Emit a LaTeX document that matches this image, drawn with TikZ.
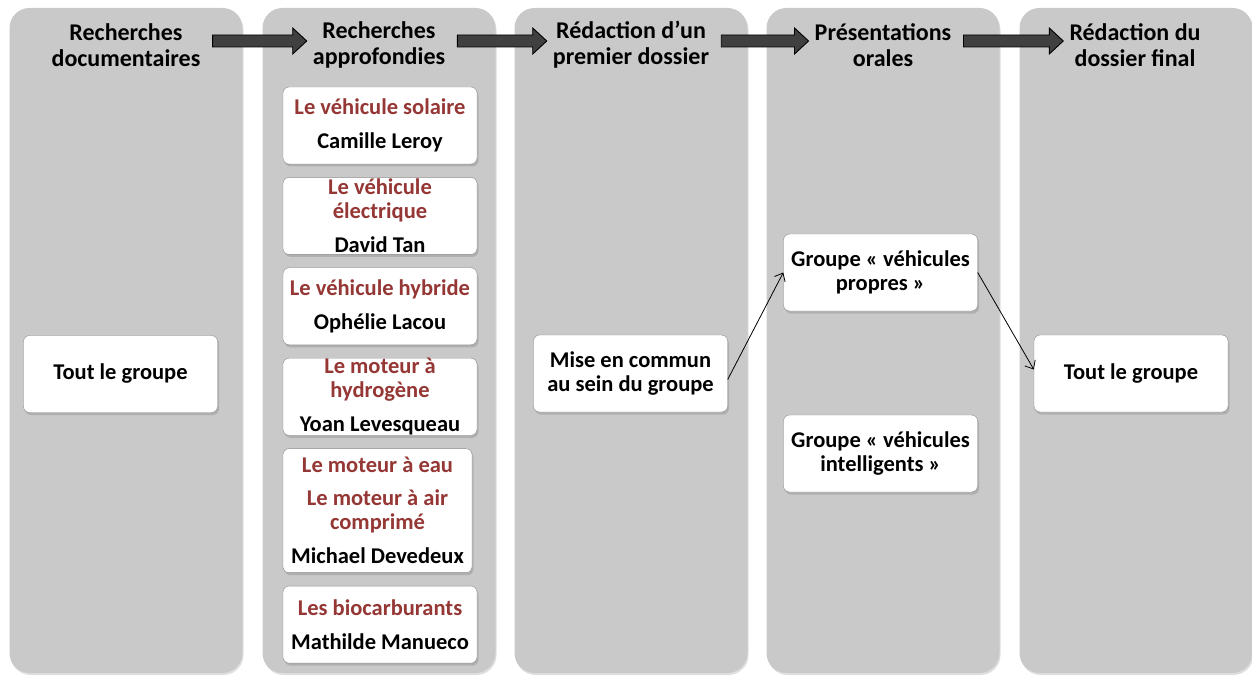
\documentclass[tikz,border=0pt]{standalone}
\usepackage{fontspec}
\setmainfont{Carlito}
\usetikzlibrary{arrows.meta,calc,positioning,shadows}
\definecolor{fondcol}{HTML}{C9C9C9}
\definecolor{sujet}{HTML}{953735}
\definecolor{flechegris}{HTML}{404040}
\definecolor{bordgris}{HTML}{8C8C8C}

\begin{document}
\begin{tikzpicture}[x=1pt,y=-1pt,node distance=13pt,
    >={Straight Barb[length=7pt,width=12pt]},
    colonne/.style={fill=fondcol,rounded corners=20pt,minimum width=233pt,minimum height=665pt,
      drop shadow={shadow xshift=1pt,shadow yshift=-2pt,opacity=.25}},
    titre/.style={align=center,inner sep=0pt,font=\fontsize{24}{26}\selectfont\bfseries},
    boite/.style={draw=bordgris,fill=white,rounded corners=6pt,align=center,inner sep=0pt,
      minimum width=194pt,minimum height=77pt,font=\fontsize{22.5}{24}\selectfont\bfseries,
      drop shadow={shadow xshift=1.5pt,shadow yshift=-2.5pt,opacity=.35}},
    grossefleche/.style={draw=black,fill=flechegris,line width=.9pt,to path={
      let \p1=(\tikztostart.east), \p2=(\tikztotarget.west) in
      (\x1+12pt,\y1+10pt) -- (\x2-20pt,\y1+10pt) -- (\x2-20pt,\y1+17pt) -- (\x2-6pt,\y1+4pt)
      -- (\x2-20pt,\y1-9pt) -- (\x2-20pt,\y1-2pt) -- (\x1+12pt,\y1-2pt) -- cycle}}]
  \useasboundingbox (0,0) rectangle (1252,676);

  % colonnes
  \node[colonne] (col_1) at (126,340.5) {};
  \node[colonne] (col_2) at (379,340.5) {};
  \node[colonne] (col_3) at (631,340.5) {};
  \node[colonne] (col_4) at (883,340.5) {};
  \node[colonne] (col_5) at (1136,340.5) {};

  % titres
  \node[titre] (t_1) at (126,45) {Recherches\\documentaires};
  \node[titre] (t_2) at (379,45) {Recherches\\approfondies};
  \node[titre] (t_3) at (631,45) {Rédaction d’un\\premier dossier};
  \node[titre] (t_4) at (883,45) {Présentations\\orales};
  \node[titre] (t_5) at (1135,45) {Rédaction du\\dossier final};
  \path[grossefleche] (t_1) to (t_2) (t_2) to (t_3) (t_3) to (t_4) (t_4) to (t_5);

  % etapes
  \node[boite] (tout_1) at (120.5,374) {Tout le groupe};

  \node[boite] (b_1) at (380,125.5) {{\color{sujet}Le véhicule solaire}\\[10pt]Camille Leroy};
  \node[boite] (b_2) [below=of b_1] {{\color{sujet}Le véhicule}\\{\color{sujet}électrique}\\[10pt]David Tan};
  \node[boite] (b_3) [below=of b_2] {{\color{sujet}Le véhicule hybride}\\[10pt]Ophélie Lacou};
  \node[boite] (b_4) [below=of b_3] {{\color{sujet}Le moteur à}\\{\color{sujet}hydrogène}\\[10pt]Yoan Levesqueau};
  \node[boite,minimum width=189pt,minimum height=124pt] (b_5) [below=of b_4.south west,anchor=north west]
    {{\color{sujet}Le moteur à eau}\\[9pt]{\color{sujet}Le moteur à air}\\{\color{sujet}comprimé}\\[10pt]Michael Devedeux};
  \node[boite] (b_6) [below=of b_5.south west,anchor=north west] {{\color{sujet}Les biocarburants}\\[10pt]Mathilde Manueco};

  \node[boite] (mise) at (630.5,373.5) {Mise en commun\\au sein du groupe};
  \node[boite] (propres) at (880.5,272.5) {Groupe « véhicules\\propres »};
  \node[boite] (intel) at (880.5,453.5) {Groupe « véhicules\\intelligents »};
  \node[boite] (tout_2) at (1131,373.5) {Tout le groupe};

  \draw[->,thick] ([yshift=-6pt]mise.east) -- (propres.west);
  \draw[->,thick] (propres.east) -- ([yshift=4pt]tout_2.west);
\end{tikzpicture}
\end{document}
